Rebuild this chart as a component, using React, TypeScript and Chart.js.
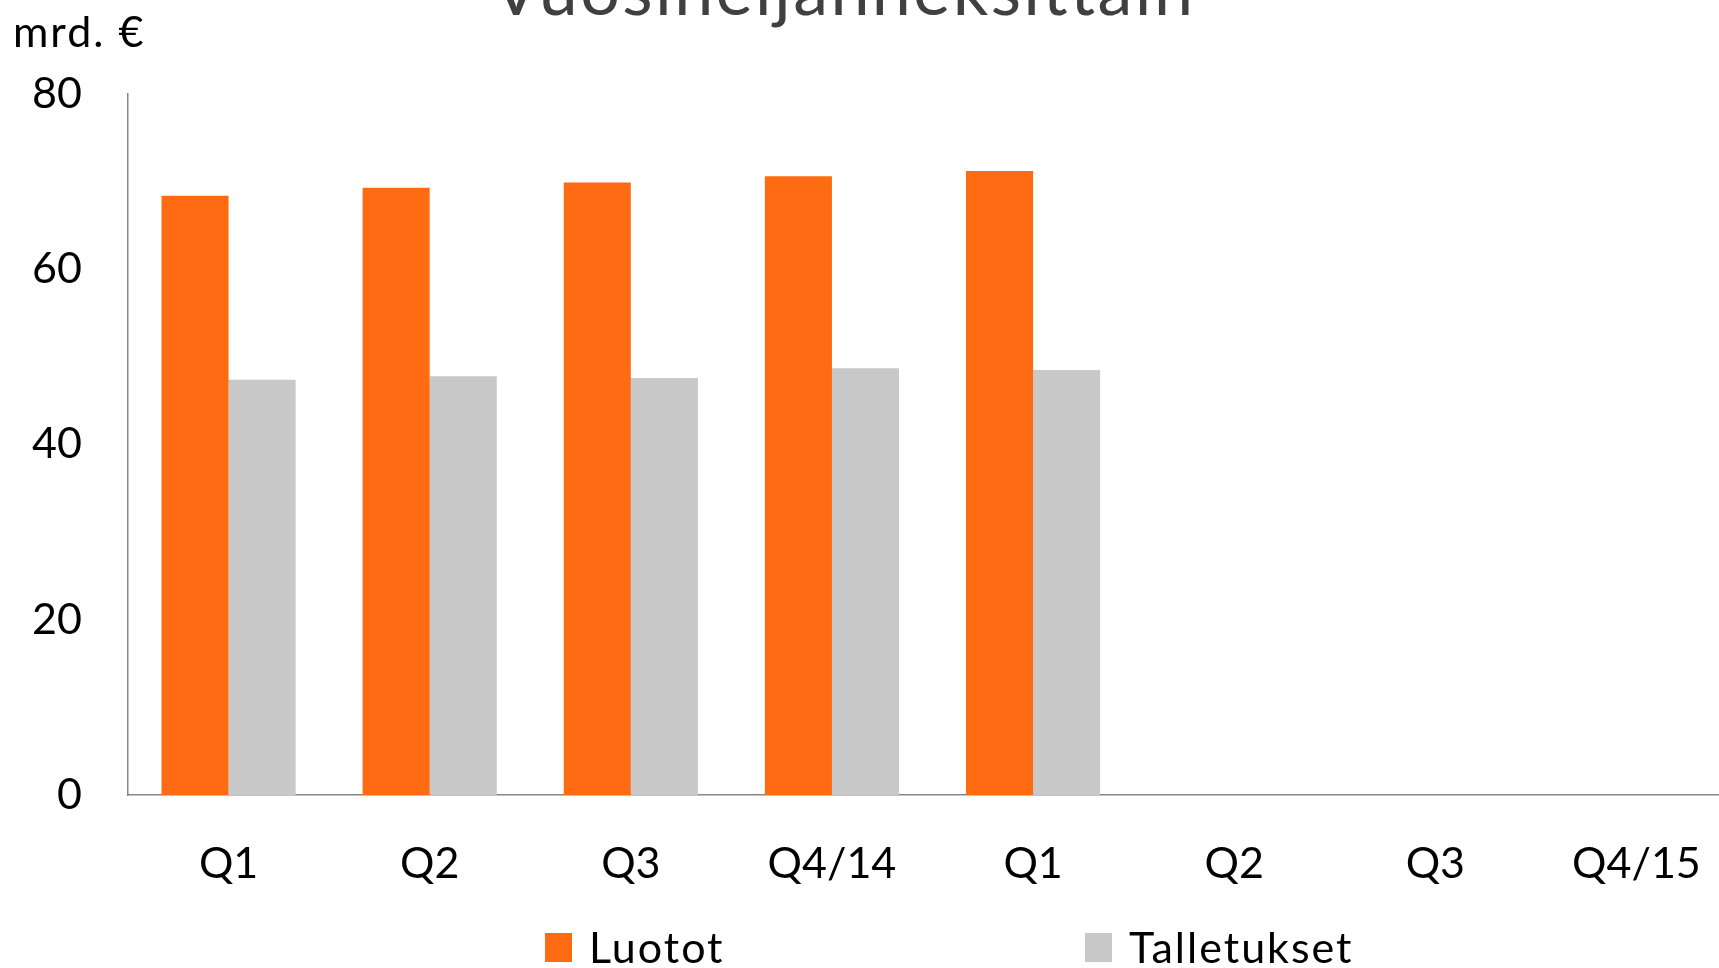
import React, { useEffect, useRef } from "react";
import { Chart, registerables } from "chart.js";

Chart.register(...registerables);

const categories = ["Q1", "Q2", "Q3", "Q4/14", "Q1", "Q2", "Q3", "Q4/15"];
const luotot = [68.4, 69.3, 69.9, 70.6, 71.2, null, null, null];
const talletukset = [47.4, 47.8, 47.6, 48.7, 48.5, null, null, null];
const yTicks = [0, 20, 40, 60, 80];
const seriesNames = ["Luotot", "Talletukset"];
const seriesColors = ["#FF6B12", "#C8C8C8"];
const titleText = "Vuosineljänneksittäin";
const unitText = "mrd. €";

const FONT = "Lato, 'Open Sans', sans-serif";

const textPlugin = {
  id: "customTexts",
  beforeDraw(chart: any) {
    chart.ctx.letterSpacing = "0px";
  },
  afterDraw(chart: any) {
    const ctx = chart.ctx;
    ctx.save();
    ctx.fillStyle = "#404040";
    ctx.font = `70px ${FONT}`;
    ctx.letterSpacing = "2.4px";
    ctx.textAlign = "center";
    ctx.textBaseline = "alphabetic";
    ctx.fillText(titleText, 844, 15);

    ctx.fillStyle = "#000";
    ctx.font = `43px ${FONT}`;
    ctx.letterSpacing = "2px";
    ctx.textAlign = "left";
    ctx.fillText(unitText, 13, 47);

    const xs = [545, 1085];
    chart.data.datasets.forEach((d: any, i: number) => {
      ctx.fillStyle = d.backgroundColor;
      ctx.fillRect(xs[i], 933, 27, 29);
      ctx.fillStyle = "#000";
      ctx.fillText(d.label, xs[i] + 44, 963);
    });
    ctx.letterSpacing = "0px";
    ctx.restore();
  },
};

export default function App() {
  const ref = useRef<HTMLCanvasElement | null>(null);

  useEffect(() => {
    if (!ref.current) return;
    const chart = new Chart(ref.current, {
      type: "bar",
      data: {
        labels: categories,
        datasets: [
          {
            label: seriesNames[0],
            data: luotot,
            backgroundColor: seriesColors[0],
            categoryPercentage: 0.667,
            barPercentage: 1,
          },
          {
            label: seriesNames[1],
            data: talletukset,
            backgroundColor: seriesColors[1],
            categoryPercentage: 0.667,
            barPercentage: 1,
          },
        ],
      },
      options: {
        responsive: false,
        animation: false,
        devicePixelRatio: 1,
        layout: { padding: { top: 94, left: 0, right: 0, bottom: 0 } },
        plugins: {
          legend: { display: false },
          tooltip: { enabled: false },
          title: { display: false },
        },
        scales: {
          x: {
            grid: { display: false, drawTicks: false },
            border: { color: "#868686", width: 1.5 },
            ticks: {
              color: "#000",
              font: { family: FONT, size: 43 },
              padding: 43,
              maxRotation: 0,
              autoSkip: false,
            },
            afterFit: (s: any) => {
              s.height = 173;
              s.paddingLeft = 0;
              s.paddingRight = 0;
            },
          },
          y: {
            min: 0,
            max: 80,
            afterBuildTicks: (s: any) => {
              s.ticks = yTicks.map((v) => ({ value: v }));
            },
            grid: { display: false, drawTicks: false },
            border: { color: "#868686", width: 1.5 },
            ticks: {
              color: "#000",
              font: { family: FONT, size: 43 },
              padding: 46,
            },
            afterFit: (s: any) => {
              s.width = 128;
              s.paddingTop = 0;
              s.paddingBottom = 0;
            },
          },
        },
      },
      plugins: [textPlugin],
    });
    return () => chart.destroy();
  }, []);

  return (
    <div
      style={{
        position: "fixed",
        left: 0,
        top: 0,
        width: 1719,
        height: 968,
        overflow: "hidden",
        background: "#fff",
      }}
    >
      <canvas ref={ref} width={1737} height={968} style={{ display: "block" }} />
    </div>
  );
}
